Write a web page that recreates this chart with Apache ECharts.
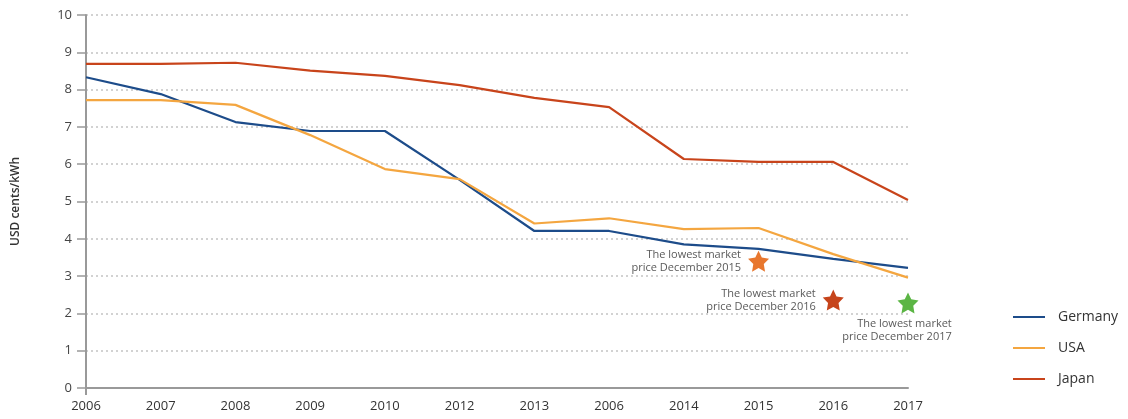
<!DOCTYPE html>
<html>
<head>
<meta charset="utf-8">
<script src="https://cdn.jsdelivr.net/npm/echarts@6/dist/echarts.min.js"></script>
<style>
  html, body { margin: 0; padding: 0; background: #fff; }
  #chart { width: 1128px; height: 419px; }
</style>
</head>
<body>
<div id="chart"></div>
<script>
// Category labels along the x axis (as printed on the chart)
const years = ['2006', '2007', '2008', '2009', '2010', '2012', '2013', '2006', '2014', '2015', '2016', '2017'];

// Electricity price, USD cents/kWh
const germany = [8.33, 7.88, 7.13, 6.89, 6.89, 5.58, 4.21, 4.21, 3.85, 3.73, 3.46, 3.22];
const usa     = [7.72, 7.72, 7.59, 6.78, 5.87, 5.60, 4.41, 4.55, 4.26, 4.29, 3.59, 2.96];
const japan   = [8.69, 8.69, 8.72, 8.51, 8.37, 8.12, 7.78, 7.53, 6.14, 6.06, 6.06, 5.04];

// Lowest market price markers: [category index, value]
const lowest2015 = [9, 3.40];
const lowest2016 = [10, 2.36];
const lowest2017 = [11, 2.28];

const yTicks = { min: 0, max: 10, interval: 1 };

// Five-pointed star, fairly wide arms
const starPath = 'path://M50,2 L64.69,31.77 L97.55,36.55 L73.78,59.73 L79.39,92.45 L50,77 L20.61,92.45 L26.22,59.73 L2.45,36.55 L35.31,31.77 Z';
const FONT = '"Open Sans", "Noto Sans", sans-serif';

const noteLabel = {
  show: true,
  fontFamily: FONT,
  fontSize: 11,
  lineHeight: 13,
  color: '#5a5a5a'
};

function lineSeries(name, data, color) {
  return {
    name: name,
    type: 'line',
    data: data,
    symbol: 'none',
    lineStyle: { color: color, width: 2.2 },
    itemStyle: { color: color },
    emphasis: { disabled: true },
    z: 3
  };
}

function starSeries(point, color, label) {
  return {
    type: 'scatter',
    data: [point],
    symbol: starPath,
    symbolSize: 21,
    itemStyle: { color: color, opacity: 1 },
    label: Object.assign({}, noteLabel, label),
    emphasis: { disabled: true },
    z: 4
  };
}

const chart = echarts.init(document.getElementById('chart'), null, { renderer: 'canvas' });

chart.setOption({
  animation: false,
  backgroundColor: '#fff',
  grid: { left: 86, top: 15, right: 220, bottom: 31, containLabel: false },
  legend: {
    data: ['Germany', 'USA', 'Japan'],
    orient: 'vertical',
    left: 1008,
    top: 305,
    itemWidth: 32,
    itemHeight: 2,
    itemGap: 17,
    icon: 'rect',
    textStyle: { fontFamily: FONT, fontSize: 14, color: '#333', padding: [0, 0, 0, 8] }
  },
  xAxis: {
    type: 'category',
    data: years,
    boundaryGap: false,
    axisLine: { show: true, lineStyle: { color: '#999', width: 2 } },
    axisTick: {
      show: true,
      length: 7,
      interval: function (index) { return index === 0; },
      lineStyle: { color: '#999', width: 2 }
    },
    axisLabel: { fontFamily: FONT, fontSize: 13, color: '#333', margin: 12 },
    splitLine: { show: false }
  },
  yAxis: {
    type: 'value',
    min: yTicks.min,
    max: yTicks.max,
    interval: yTicks.interval,
    name: 'USD cents/kWh',
    nameLocation: 'middle',
    nameGap: 64,
    nameTextStyle: { fontFamily: FONT, fontSize: 12, color: '#333', fontWeight: 600 },
    axisLine: { show: true, lineStyle: { color: '#999', width: 2 } },
    axisTick: { show: true, length: 9, lineStyle: { color: '#999', width: 1.5 } },
    axisLabel: { fontFamily: FONT, fontSize: 13, color: '#444', margin: 14 },
    splitLine: { show: true, lineStyle: { type: [2, 3], color: '#c4c4c4', width: 1.5 } }
  },
  series: [
    lineSeries('Germany', germany, '#1d4c8a'),
    lineSeries('USA', usa, '#f4a640'),
    lineSeries('Japan', japan, '#c8441b'),
    starSeries(lowest2015, '#e8772e', {
      position: 'left',
      distance: 7,
      align: 'right',
      formatter: 'The lowest market\nprice December 2015'
    }),
    starSeries(lowest2016, '#c6441b', {
      position: 'left',
      distance: 7,
      align: 'right',
      formatter: 'The lowest market\nprice December 2016'
    }),
    starSeries(lowest2017, '#5bb544', {
      position: 'bottom',
      distance: 4,
      offset: [-11, 0],
      formatter: '{r|The lowest market}\n{r|price December 2017}',
      rich: { r: { align: 'right', fontFamily: FONT, fontSize: 11, lineHeight: 13, color: '#5a5a5a' } }
    })
  ]
});
</script>
</body>
</html>
